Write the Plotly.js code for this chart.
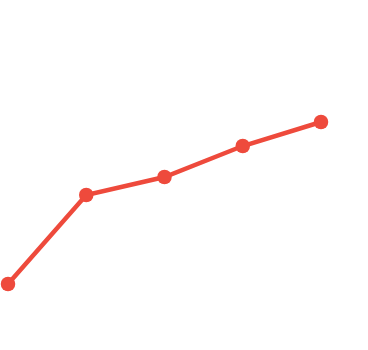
<!DOCTYPE html>
<html>
<head>
<meta charset="utf-8">
<script src="https://cdn.plot.ly/plotly-3.0.1.min.js"></script>
<style>html,body{margin:0;padding:0;background:#fff;}#chart{width:368px;height:350px;}</style>
</head>
<body>
<div id="chart"></div>
<script>
var categories = [0, 1, 2, 3, 4];
var values = [16.5, 38.75, 43.25, 51, 57];

var trace = {
  x: categories,
  y: values,
  type: 'scatter',
  mode: 'lines+markers',
  line: {color: '#EE4A3C', width: 4.5},
  marker: {color: '#EE4A3C', size: 14.5},
  hoverinfo: 'none'
};

var layout = {
  width: 368,
  height: 350,
  margin: {l: 0, r: 0, t: 0, b: 0},
  paper_bgcolor: '#ffffff',
  plot_bgcolor: '#ffffff',
  showlegend: false,
  xaxis: {range: [-0.1022, 4.6006], visible: false, fixedrange: true},
  yaxis: {range: [0, 87.5], visible: false, fixedrange: true}
};

Plotly.newPlot('chart', [trace], layout, {staticPlot: true, displayModeBar: false});
</script>
</body>
</html>
